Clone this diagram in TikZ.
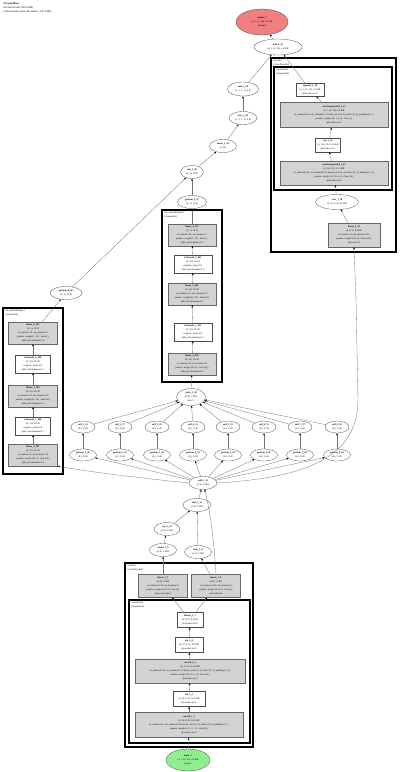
\documentclass[tikz,border=0pt]{standalone}
\usepackage{fontspec}
\setmainfont{Liberation Serif}
\usetikzlibrary{shapes.geometric,arrows.meta}
\definecolor{outred}{RGB}{240,128,128}
\definecolor{ingreen}{RGB}{144,238,144}
\definecolor{opgray}{RGB}{211,211,211}
\begin{document}
\begin{tikzpicture}[x=1pt,y=-1pt,
  every node/.style={font=\fontsize{2.4}{3.9}\selectfont, align=center, inner sep=0.5pt},
  ell/.style={ellipse, draw=black!70, line width=0.3pt, fill=white, minimum width=#1},
  ell/.default=28pt,
  gbox/.style={rectangle, draw=black!60, line width=0.3pt, fill=opgray, minimum width=#1},
  gbox/.default=47pt,
  wbox/.style={rectangle, draw=black!70, line width=0.3pt, fill=white, minimum width=#1},
  wbox/.default=34pt,
  clus/.style={draw=black, line width=1.1pt},
  clab/.style={anchor=north west, align=left, font=\fontsize{2.5}{3.6}\selectfont},
  edge/.style={draw=black!55, line width=0.3pt, -{Stealth[length=2.2pt,width=1.8pt,black]}}
]
\useasboundingbox (0,0) rectangle (400,772);
\fill[white] (0,0) rectangle (400,772);

% header
\node[anchor=north west, align=left, font=\fontsize{2.7}{4}\selectfont] (hdr) at (3,2)
  {\textbf{ForwardPass}\\84 tensors total (220.4 KB)\\2,965 params total (with buffers: 197.4 KB)};

% clusters
\draw[clus] (271,58) rectangle (396,252);
\node[clab] (cdec) at (273,59) {decoder\\(ConvDecoder)};
\draw[clus] (274,67) rectangle (392,190);
\node[clab] (cdecnet) at (276,68) {decoder.net\\(Sequential)};
\draw[clus] (162,210) rectangle (222,382);
\node[clab] (cmid) at (164,211) {dis\_discriminator.3\\(Sequential)};
\draw[clus] (3,308) rectangle (63,474);
\node[clab] (cleft) at (5,309) {dis\_discriminator.1\\(Sequential)};
\draw[clus] (125,563) rectangle (253,747);
\node[clab] (cenc) at (127,564) {encoder\\(ConvEncoder)};
\draw[clus] (129,600) rectangle (250,743);
\node[clab] (cencnet) at (131,601) {encoder.net\\(Sequential)};

% top chain
\node[ell=52pt, minimum height=26pt, fill=outred] (out) at (262,22) {\textbf{output\_1}\\(4, 1, 16, 16): 4.0 KB\\@output};
\node[ell=48pt, minimum height=16pt] (add2) at (278,47) {\textbf{add\_2\_35}\\(4, 1, 16, 16): 4.0 KB};
\node[ell=31pt, minimum height=14pt] (mul34) at (243,89) {\textbf{mul\_1\_34}\\(1, 1, 1, 1): 4 B};
\node[ell=28pt, minimum height=13pt] (view33) at (243,118) {\textbf{view\_2\_33}\\(1, 1, 1, 1): 4 B};
\node[ell=27pt, minimum height=13pt] (mean49) at (223,146) {\textbf{mean\_1\_49}\\(): 4 B};
\node[ell=23pt, minimum height=13pt] (sub48) at (192,172) {\textbf{sub\_1\_48}\\(4, 1): 16 B};
\node[ell=29pt, minimum height=13pt] (gi47) at (192,202) {\textbf{getitem\_9\_47}\\(4, 1): 16 B};
\node[ell=32pt, minimum height=13pt] (gi46) at (66,293) {\textbf{getitem\_8\_46}\\(4, 1): 16 B};

% middle discriminator
\node[gbox=48pt, minimum height=22pt] (mA) at (192,235) {\textbf{linear\_4\_112}\\(4, 1): 16 B\\in\_features=32, out\_features=1\\params: weight (1, 32) · bias (1,)\\@dis\_discriminator.3.4};
\node[wbox=38pt, minimum height=18pt] (mB) at (193,264) {\textbf{leakyrelu\_2\_462}\\(4, 32): 512 B\\negative\_slope=0.2\\@dis\_discriminator.3.3};
\node[gbox=48pt, minimum height=22pt] (mC) at (192,294) {\textbf{linear\_5\_461}\\(4, 32): 512 B\\in\_features=32, out\_features=32\\params: weight (32, 32) · bias (32,)\\@dis\_discriminator.3.2};
\node[wbox=38pt, minimum height=18pt] (mD) at (193,332) {\textbf{leakyrelu\_1\_411}\\(4, 32): 512 B\\negative\_slope=0.2\\@dis\_discriminator.3.1};
\node[gbox=48pt, minimum height=22pt] (mE) at (192,364) {\textbf{linear\_4\_410}\\(4, 32): 512 B\\in\_features=8, out\_features=32\\params: weight (32, 8) · bias (32,)\\@dis\_discriminator.3.0};

% left discriminator
\node[gbox=49pt, minimum height=22pt] (lA) at (33,333) {\textbf{linear\_6\_391}\\(4, 1): 16 B\\in\_features=32, out\_features=1\\params: weight (1, 32) · bias (1,)\\@dis\_discriminator.1.4};
\node[wbox=35pt, minimum height=18pt] (lB) at (33,364) {\textbf{leakyrelu\_6\_390}\\(4, 32): 512 B\\negative\_slope=0.2\\@dis\_discriminator.1.3};
\node[gbox=49pt, minimum height=22pt] (lC) at (33,396) {\textbf{linear\_2\_384}\\(4, 32): 512 B\\in\_features=32, out\_features=32\\params: weight (32, 32) · bias (32,)\\@dis\_discriminator.1.2};
\node[wbox=35pt, minimum height=18pt] (lD) at (33,426) {\textbf{leakyrelu\_1\_284}\\(4, 32): 512 B\\negative\_slope=0.2\\@dis\_discriminator.1.1};
\node[gbox=49pt, minimum height=22pt] (lE) at (33,455) {\textbf{linear\_4\_381}\\(4, 32): 512 B\\in\_features=4, out\_features=32\\params: weight (32, 4) · bias (32,)\\@dis\_discriminator.1.0};

% stack, rolls, getitems
\node[ell=29pt, minimum height=17pt] (stack) at (191,397) {\textbf{stack\_1\_40}\\(4, 8): 128 B\\dim=1};
\foreach \i/\x/\r/\g in {1/83/25/26, 2/120/27/28, 3/157/29/30, 4/193/31/32, 5/228/33/34, 6/264/35/36, 7/300/37/38, 8/337/39/40} {
  \node[ell=24pt, minimum height=12pt] (roll\i) at (\x,427) {\textbf{roll\_\i\_\r}\\(4,): 16 B};
  \node[ell=27pt, minimum height=12pt] (gi\i) at (\x,455) {\textbf{getitem\_\i\_\g}\\(4,): 16 B};
}

% reparam
\node[ell=28pt, minimum height=13pt] (add10) at (203,483) {\textbf{add\_1\_10}\\(4, 4): 128 B};
\node[ell=28pt, minimum height=13pt] (mul11) at (197,505) {\textbf{mul\_1\_11}\\(4, 4): 128 B};
\node[ell=26pt, minimum height=13pt] (exp10) at (167,529) {\textbf{exp\_1\_10}\\(4, 4): 128 B};
\node[ell=27pt, minimum height=13pt] (randn9) at (163,550) {\textbf{randn\_1\_9}\\(4, 4): 128 B};
\node[ell=27pt, minimum height=13pt] (tanh8) at (198,552) {\textbf{tanh\_1\_8}\\(4, 4): 128 B};

% encoder
\node[gbox=49pt, minimum height=23pt] (lin7) at (163,586) {\textbf{linear\_1\_7}\\(4, 4): 128 B\\in\_features=512, out\_features=4\\params: weight (4, 512) · bias (4,)\\@encoder.logvar};
\node[gbox=49pt, minimum height=23pt] (lin6) at (216,586) {\textbf{linear\_1\_6}\\(4, 4): 128 B\\in\_features=512, out\_features=4\\params: weight (4, 512) · bias (4,)\\@encoder.mu};
\node[wbox=26pt, minimum height=15pt] (flat5) at (190,620) {\textbf{flatten\_1\_5}\\(4, 512): 8.0 KB\\@encoder.net.4};
\node[wbox=28pt, minimum height=15pt] (elu4) at (189,645) {\textbf{elu\_2\_4}\\(4, 32, 4, 4): 8.0 KB\\@encoder.net.3};
\node[gbox=110pt, minimum height=24pt] (conv3) at (190,671) {\textbf{conv2d\_2\_3}\\(4, 32, 4, 4): 8.0 KB\\in\_channels=16, out\_channels=32, kernel\_size=(3, 3), stride=(2, 2), padding=(1, 1)\\params: weight (32, 16, 3, 3) · bias (32,)\\@encoder.net.2};
\node[wbox=32pt, minimum height=15pt] (elu2) at (189,699) {\textbf{elu\_1\_2}\\(4, 16, 8, 8): 16.0 KB\\@encoder.net.1};
\node[gbox=108pt, minimum height=25pt] (conv1) at (189,725) {\textbf{conv2d\_1\_1}\\(4, 16, 8, 8): 16.0 KB\\in\_channels=1, out\_channels=16, kernel\_size=(3, 3), stride=(2, 2), padding=(1, 1)\\params: weight (16, 1, 3, 3) · bias (16,)\\@encoder.net.0};
\node[ell=44pt, minimum height=22pt, fill=ingreen] (inp) at (188,760) {\textbf{input\_1}\\(4, 1, 16, 16): 4.0 KB\\@input};

% decoder
\node[wbox=28pt, minimum height=13pt] (sig18) at (310,90) {\textbf{sigmoid\_1\_18}\\(4, 1, 16, 16): 4.0 KB\\@decoder.net.5};
\node[gbox=108pt, minimum height=25pt] (ct17) at (334,115) {\textbf{convtranspose2d\_1\_17}\\(4, 1, 16, 16): 4.0 KB\\in\_channels=16, out\_channels=1, kernel\_size=(4, 4), stride=(2, 2), padding=(1, 1)\\params: weight (16, 1, 4, 4) · bias (1,)\\@decoder.net.2};
\node[wbox=25pt, minimum height=14pt] (elu16) at (328,145) {\textbf{elu\_1\_16}\\(4, 16, 8, 8): 16.0 KB\\@decoder.net.1};
\node[gbox=108pt, minimum height=24pt] (ct15) at (334,173) {\textbf{convtranspose2d\_1\_15}\\(4, 16, 8, 8): 16.0 KB\\in\_channels=32, out\_channels=16, kernel\_size=(4, 4), stride=(2, 2), padding=(1, 1)\\params: weight (32, 16, 4, 4) · bias (16,)\\@decoder.net.0};
\node[ell=43pt, minimum height=15pt] (view14) at (337,202) {\textbf{view\_1\_14}\\(4, 32, 4, 4): 8.0 KB};
\node[gbox=52pt, minimum height=24pt] (lin13) at (354,235) {\textbf{linear\_3\_13}\\(4, 512): 8.0 KB\\in\_features=4, out\_features=512\\params: weight (512, 4) · bias (512,)\\@decoder.fc};

% edges
\draw[edge] (add2) -- (out);
\draw[edge] (mul34) -- (add2);
\draw[edge] (sig18) -- (add2);
\draw[edge] (view33) -- (mul34);
\draw[edge] (mean49) -- (view33);
\draw[edge] (sub48) -- (mean49);
\draw[edge] (gi47) -- (sub48);
\draw[edge] (gi46) -- (sub48);
\draw[edge] (mA) -- (gi47);
\draw[edge] (mB) -- (mA);
\draw[edge] (mC) -- (mB);
\draw[edge] (mD) -- (mC);
\draw[edge] (mE) -- (mD);
\draw[edge] (stack) -- (mE);
\draw[edge] (lA) -- (gi46);
\draw[edge] (lB) -- (lA);
\draw[edge] (lC) -- (lB);
\draw[edge] (lD) -- (lC);
\draw[edge] (lE) -- (lD);
\draw[edge] (add10.west) .. controls (140,478) and (90,472) .. (lE.south east);
\foreach \i in {1,...,8} {
  \draw[edge] (gi\i) -- (roll\i);
  \draw[edge] (roll\i) -- (stack);
  \draw[edge] (add10) -- (gi\i);
}
\draw[edge] (mul11) -- (add10);
\draw[edge] (exp10) -- (mul11);
\draw[edge] (tanh8) -- (mul11);
\draw[edge] (randn9) -- (exp10);
\draw[edge] (lin7) -- (randn9);
\draw[edge] (lin6) -- (tanh8);
\draw[edge] (lin6.north) .. controls (214,540) and (210,510) .. (add10);
\draw[edge] (add10.east) .. controls (300,478) and (358,460) .. (358,400) -- (356,300) -- (lin13.south);
\draw[edge] (flat5) -- (lin7);
\draw[edge] (flat5) -- (lin6);
\draw[edge] (elu4) -- (flat5);
\draw[edge] (conv3) -- (elu4);
\draw[edge] (elu2) -- (conv3);
\draw[edge] (conv1) -- (elu2);
\draw[edge] (inp) -- (conv1);
\draw[edge] (ct17) -- (sig18);
\draw[edge] (elu16) -- (ct17);
\draw[edge] (ct15) -- (elu16);
\draw[edge] (view14) -- (ct15);
\draw[edge] (lin13) -- (view14);
\end{tikzpicture}
\end{document}
